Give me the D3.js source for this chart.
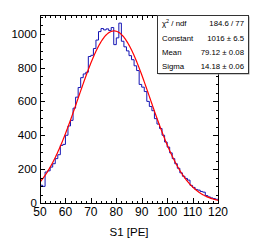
<!DOCTYPE html>
<html>
<head>
<meta charset="utf-8">
<script src="https://cdn.jsdelivr.net/npm/d3@7"></script>
<style>
  body { margin: 0; background: #fff; }
  svg { display: block; font-family: "Liberation Sans", Arial, sans-serif; }
</style>
</head>
<body>
<script>
// histogram: bin lower edges (1 PE wide) and counts
var binEdges = [50,51,52,53,54,55,56,57,58,59,60,61,62,63,64,65,66,67,68,69,
                70,71,72,73,74,75,76,77,78,79,80,81,82,83,84,85,86,87,88,89,
                90,91,92,93,94,95,96,97,98,99,100,101,102,103,104,105,106,107,108,109,
                110,111,112,113,114,115,116,117,118,119];
var counts = [105,98,183,190,212,232,262,285,340,346,400,455,488,560,625,682,740,762,772,865,
              872,912,962,1012,1030,1022,1028,1018,1036,935,975,1062,955,922,898,870,846,810,782,700,
              684,658,600,570,545,498,466,440,400,360,330,296,262,232,205,178,158,145,135,104,
              92,80,76,68,64,44,36,30,26,22];

// gaussian fit parameters (from the stats box)
var fitNames  = ["Constant", "Mean", "Sigma"];
var fitValues = [1016, 79.12, 14.18];
var fitErrors = ["6.5", "0.08", "0.06"];
var chi2ndf = "184.6 / 77";

var xTicks = [50,60,70,80,90,100,110,120];
var yTicks = [0,200,400,600,800,1000];

var W = 254, H = 243;
var fLeft = 40, fRight = 218, fTop = 15, fBottom = 203;

var svg = d3.select("body").append("svg").attr("width", W).attr("height", H);

var x = d3.scaleLinear().domain([50, 120]).range([fLeft, fRight]);
var y = d3.scaleLinear().domain([0, 1110]).range([fBottom, fTop]);

// clip to frame
svg.append("clipPath").attr("id", "frame")
  .append("rect").attr("x", fLeft).attr("y", fTop).attr("width", fRight - fLeft).attr("height", fBottom - fTop);

var plot = svg.append("g").attr("clip-path", "url(#frame)");

// histogram step line
var pts = [];
counts.forEach(function(c, i){
  pts.push([x(binEdges[i]), y(c)]);
  pts.push([x(binEdges[i] + 1), y(c)]);
});
plot.append("path")
  .attr("d", d3.line()(pts))
  .attr("fill", "none")
  .attr("stroke", "#1414b4")
  .attr("stroke-width", 1);

// fit curve
var gaus = function(v){
  var d = (v - fitValues[1]) / fitValues[2];
  return fitValues[0] * Math.exp(-0.5 * d * d);
};
var curveX = d3.range(50, 120.01, 0.25);
plot.append("path")
  .attr("d", d3.line().x(function(d){ return x(d); }).y(function(d){ return y(gaus(d)); })(curveX))
  .attr("fill", "none")
  .attr("stroke", "#ff0000")
  .attr("stroke-width", 1.2);

// frame
svg.append("rect")
  .attr("x", fLeft + 0.5).attr("y", fTop + 0.5)
  .attr("width", fRight - fLeft).attr("height", fBottom - fTop)
  .attr("fill", "none").attr("stroke", "#000").attr("stroke-width", 1);

// ticks (inside, on all four sides)
var ticks = svg.append("g").attr("stroke", "#000").attr("stroke-width", 1).attr("shape-rendering", "crispEdges");
d3.range(50, 120.01, 2).forEach(function(v){
  var major = v % 10 === 0;
  var len = major ? 5 : 2.5;
  var px = Math.round(x(v)) + 0.5;
  ticks.append("line").attr("x1", px).attr("x2", px).attr("y1", fBottom).attr("y2", fBottom - len);
  ticks.append("line").attr("x1", px).attr("x2", px).attr("y1", fTop).attr("y2", fTop + len);
});
d3.range(0, 1101, 50).forEach(function(v){
  var major = v % 200 === 0;
  var len = major ? 5 : 2.5;
  var py = Math.round(y(v)) + 0.5;
  ticks.append("line").attr("x1", fLeft).attr("x2", fLeft + len).attr("y1", py).attr("y2", py);
  ticks.append("line").attr("x1", fRight).attr("x2", fRight - len).attr("y1", py).attr("y2", py);
});

// tick labels
svg.selectAll("text.xl").data(xTicks).enter().append("text")
  .attr("class", "xl")
  .attr("x", function(d){ return x(d); })
  .attr("y", 216)
  .attr("text-anchor", "middle")
  .attr("font-size", 12)
  .text(function(d){ return d; });

svg.selectAll("text.yl").data(yTicks).enter().append("text")
  .attr("class", "yl")
  .attr("x", 37)
  .attr("y", function(d){ return y(d) + 4; })
  .attr("text-anchor", "end")
  .attr("font-size", 11.5)
  .attr("font-family", "'Liberation Sans Narrow', 'Liberation Sans', Arial, sans-serif")
  .text(function(d){ return d; });

// axis title
svg.append("text")
  .attr("x", (fLeft + fRight) / 2).attr("y", 236)
  .attr("text-anchor", "middle")
  .attr("font-size", 11.5)
  .text("S1 [PE]");

// stats box
var bx = 157, by = 15, bw = 91, bh = 58;
svg.append("rect").attr("x", bx + 1.5).attr("y", by + 1.5).attr("width", bw).attr("height", bh)
  .attr("fill", "#999");
svg.append("rect").attr("x", bx + 0.5).attr("y", by + 0.5).attr("width", bw).attr("height", bh)
  .attr("fill", "#fff").attr("stroke", "#333").attr("stroke-width", 1);

var rowY = [26, 41, 55, 69];
var st = svg.append("g").attr("font-size", 7.8).attr("fill", "#000");
var c2 = st.append("text").attr("x", bx + 5).attr("y", rowY[0]);
c2.append("tspan").text("\u03C7");
c2.append("tspan").attr("font-size", 5.5).attr("dy", -3).text("2");
c2.append("tspan").attr("dy", 3).text(" / ndf");
st.append("text").attr("x", bx + bw - 4).attr("y", rowY[0]).attr("text-anchor", "end").text(chi2ndf);

fitNames.forEach(function(n, i){
  st.append("text").attr("x", bx + 5).attr("y", rowY[i + 1]).text(n);
  st.append("text").attr("x", bx + bw - 4).attr("y", rowY[i + 1]).attr("text-anchor", "end")
    .text(fitValues[i] + " \u00B1 " + fitErrors[i]);
});
</script>
</body>
</html>
